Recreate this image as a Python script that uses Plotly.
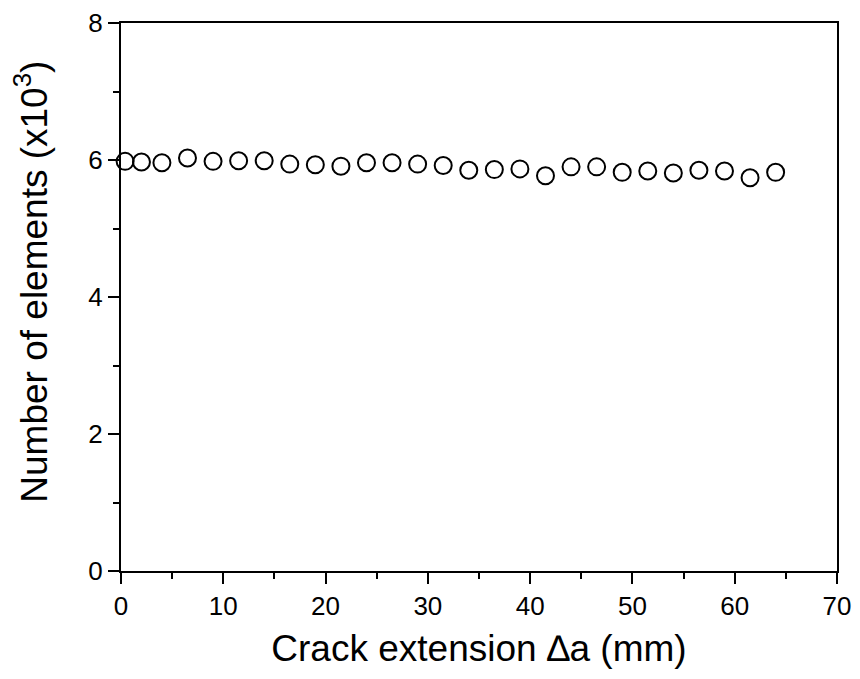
import plotly.graph_objects as go

crack_ext = [0.4, 2, 4, 6.5, 9, 11.5, 14, 16.5, 19, 21.5, 24, 26.5, 29, 31.5,
             34, 36.5, 39, 41.5, 44, 46.5, 49, 51.5, 54, 56.5, 59, 61.5, 64]
n_elements = [5.98, 5.97, 5.96, 6.03, 5.98, 5.99, 5.99, 5.94, 5.93, 5.91, 5.96, 5.96, 5.94, 5.92,
              5.85, 5.86, 5.87, 5.77, 5.90, 5.90, 5.82, 5.84, 5.81, 5.85, 5.84, 5.74, 5.82]

x_ticks = [0, 10, 20, 30, 40, 50, 60, 70]
y_ticks = [0, 2, 4, 6, 8]

fig = go.Figure()
fig.add_trace(go.Scatter(
    x=crack_ext, y=n_elements, mode="markers",
    marker=dict(symbol="circle-open", size=17, color="black", line=dict(width=2, color="black")),
    showlegend=False, cliponaxis=False,
))

font = "Liberation Sans, Arial, sans-serif"
fig.update_layout(
    width=852, height=663,
    margin=dict(l=113, r=23, t=15, b=100),
    paper_bgcolor="white", plot_bgcolor="white",
    font=dict(family=font, color="black"),
    xaxis=dict(
        range=[0, 70], tickvals=x_ticks, ticks="outside", ticklen=11, tickwidth=2,
        tickcolor="black", showline=True, linecolor="black", linewidth=2, mirror=True,
        showgrid=False, zeroline=False, tickfont=dict(size=26), automargin=False,
        minor=dict(tickvals=[5, 15, 25, 35, 45, 55, 65], ticks="outside", ticklen=6, tickwidth=2, tickcolor="black"),
        title=dict(text="Crack extension \u2206a (mm)", font=dict(size=37), standoff=15),
    ),
    yaxis=dict(
        range=[0, 8], tickvals=y_ticks, ticks="outside", ticklen=11, tickwidth=2,
        tickcolor="black", showline=True, linecolor="black", linewidth=2, mirror=True,
        showgrid=False, zeroline=False, tickfont=dict(size=26), automargin=False,
        minor=dict(tickvals=[1, 3, 5, 7], ticks="outside", ticklen=6, tickwidth=2, tickcolor="black"),
    ),
    annotations=[dict(
        text="Number of elements (x10<sup>3</sup>)", textangle=-90,
        xref="paper", yref="paper", x=-0.125, y=0.527,
        xanchor="center", yanchor="middle", showarrow=False,
        font=dict(size=37, family=font, color="black"),
    )],
)

fig.write_html("out.html")
